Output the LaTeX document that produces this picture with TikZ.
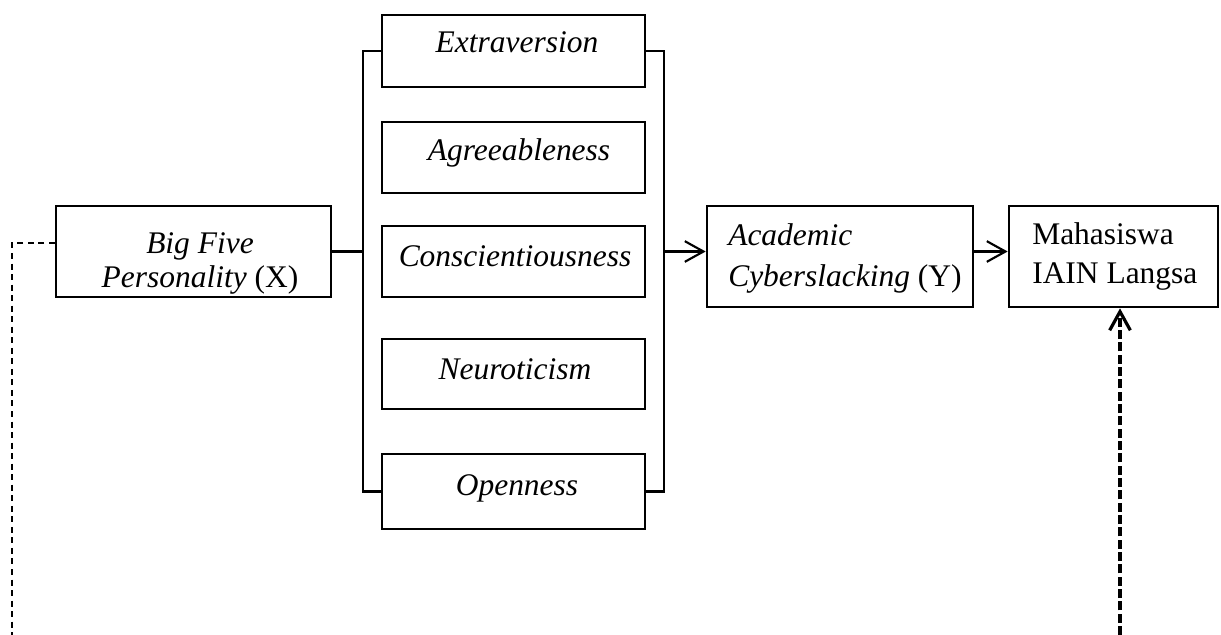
\documentclass[tikz,border=0pt]{standalone}
\usepackage{fontspec}
\setmainfont{Liberation Serif}
\usetikzlibrary{arrows.meta,calc}
\begin{document}
\begin{tikzpicture}[x=0.75pt,y=-0.75pt,
  box/.style={draw,line width=2pt,inner sep=0pt,rectangle},
  txt/.style={inner sep=0pt,font=\fontsize{23.6}{28}\selectfont},
  conn/.style={line width=1.6pt},
  dashL/.style={line width=1.4pt,dash pattern=on 4.5pt off 3.4pt},
  dashR/.style={line width=2.4pt,dash pattern=on 6.75pt off 2.5pt},
  >={Straight Barb[length=14pt,width=15.5pt]}]
\useasboundingbox (0,0) rectangle (1221,635);
% boxes
\node[box,minimum width=206.25pt,minimum height=68.25pt] (bf) at (193.5,251.5) {};
\node[box,minimum width=197.25pt,minimum height=54pt] (ext) at (513.5,51) {};
\node[box,minimum width=197.25pt,minimum height=53.25pt] (agr) at (513.5,157.5) {};
\node[box,minimum width=197.25pt,minimum height=53.25pt] (con) at (513.5,261.5) {};
\node[box,minimum width=197.25pt,minimum height=52.5pt] (neu) at (513.5,374) {};
\node[box,minimum width=197.25pt,minimum height=56.25pt] (ope) at (513.5,491.5) {};
\node[box,minimum width=199.5pt,minimum height=75.75pt] (aca) at (840,256.5) {};
\node[box,minimum width=156.75pt,minimum height=75.75pt] (mah) at (1113.5,256.5) {};
% texts
\node[txt,anchor=base,font=\fontsize{23.6}{25.5}\selectfont] (bft) at (200,253)
  {\begin{tabular}[t]{@{}c@{}}\textit{Big Five}\\\textit{Personality} (X)\end{tabular}};
\node[txt,anchor=base] (extt) at (517,53) {\textit{Extraversion}};
\node[txt,anchor=base] (agrt) at (519,160) {\textit{Agreeableness}};
\node[txt,anchor=base] (cont) at (515,266) {\textit{Conscientiousness}};
\node[txt,anchor=base] (neut) at (515,379) {\textit{Neuroticism}};
\node[txt,anchor=base] (opet) at (517,495) {\textit{Openness}};
\node[txt,anchor=base west,font=\fontsize{23.6}{30.75}\selectfont] (acat) at (728,245)
  {\begin{tabular}[t]{@{}l@{}}\textit{Academic}\\\textit{Cyberslacking} (Y)\end{tabular}};
\node[txt,anchor=base west,font=\fontsize{23.6}{29.25}\selectfont] (maht) at (1032,244)
  {\begin{tabular}[t]{@{}l@{}}Mahasiswa\\IAIN Langsa\end{tabular}};
% brackets
\coordinate (lb) at (363,0);
\coordinate (rb) at (664,0);
\draw[conn] (ext.west) -| (lb |- ope.west) -- (ope.west);
\draw[conn] (bf.east) -- (lb |- bf.east);
\draw[conn] (ext.east) -| (rb |- ope.east) -- (ope.east);
\draw[conn,->] (rb |- bf.east) -- (aca.west |- bf.east);
\draw[conn,->] (aca.east |- bf.east) -- (mah.west |- bf.east);
% dashed connectors
\coordinate (dl) at (12,635);
\coordinate (dr) at (1120,635);
\draw[dashL] ($(bf.west)+(0,-8.5)$) -| (dl);
\draw[dashR,->] (dr) -- (dr |- mah.south);
\end{tikzpicture}
\end{document}
